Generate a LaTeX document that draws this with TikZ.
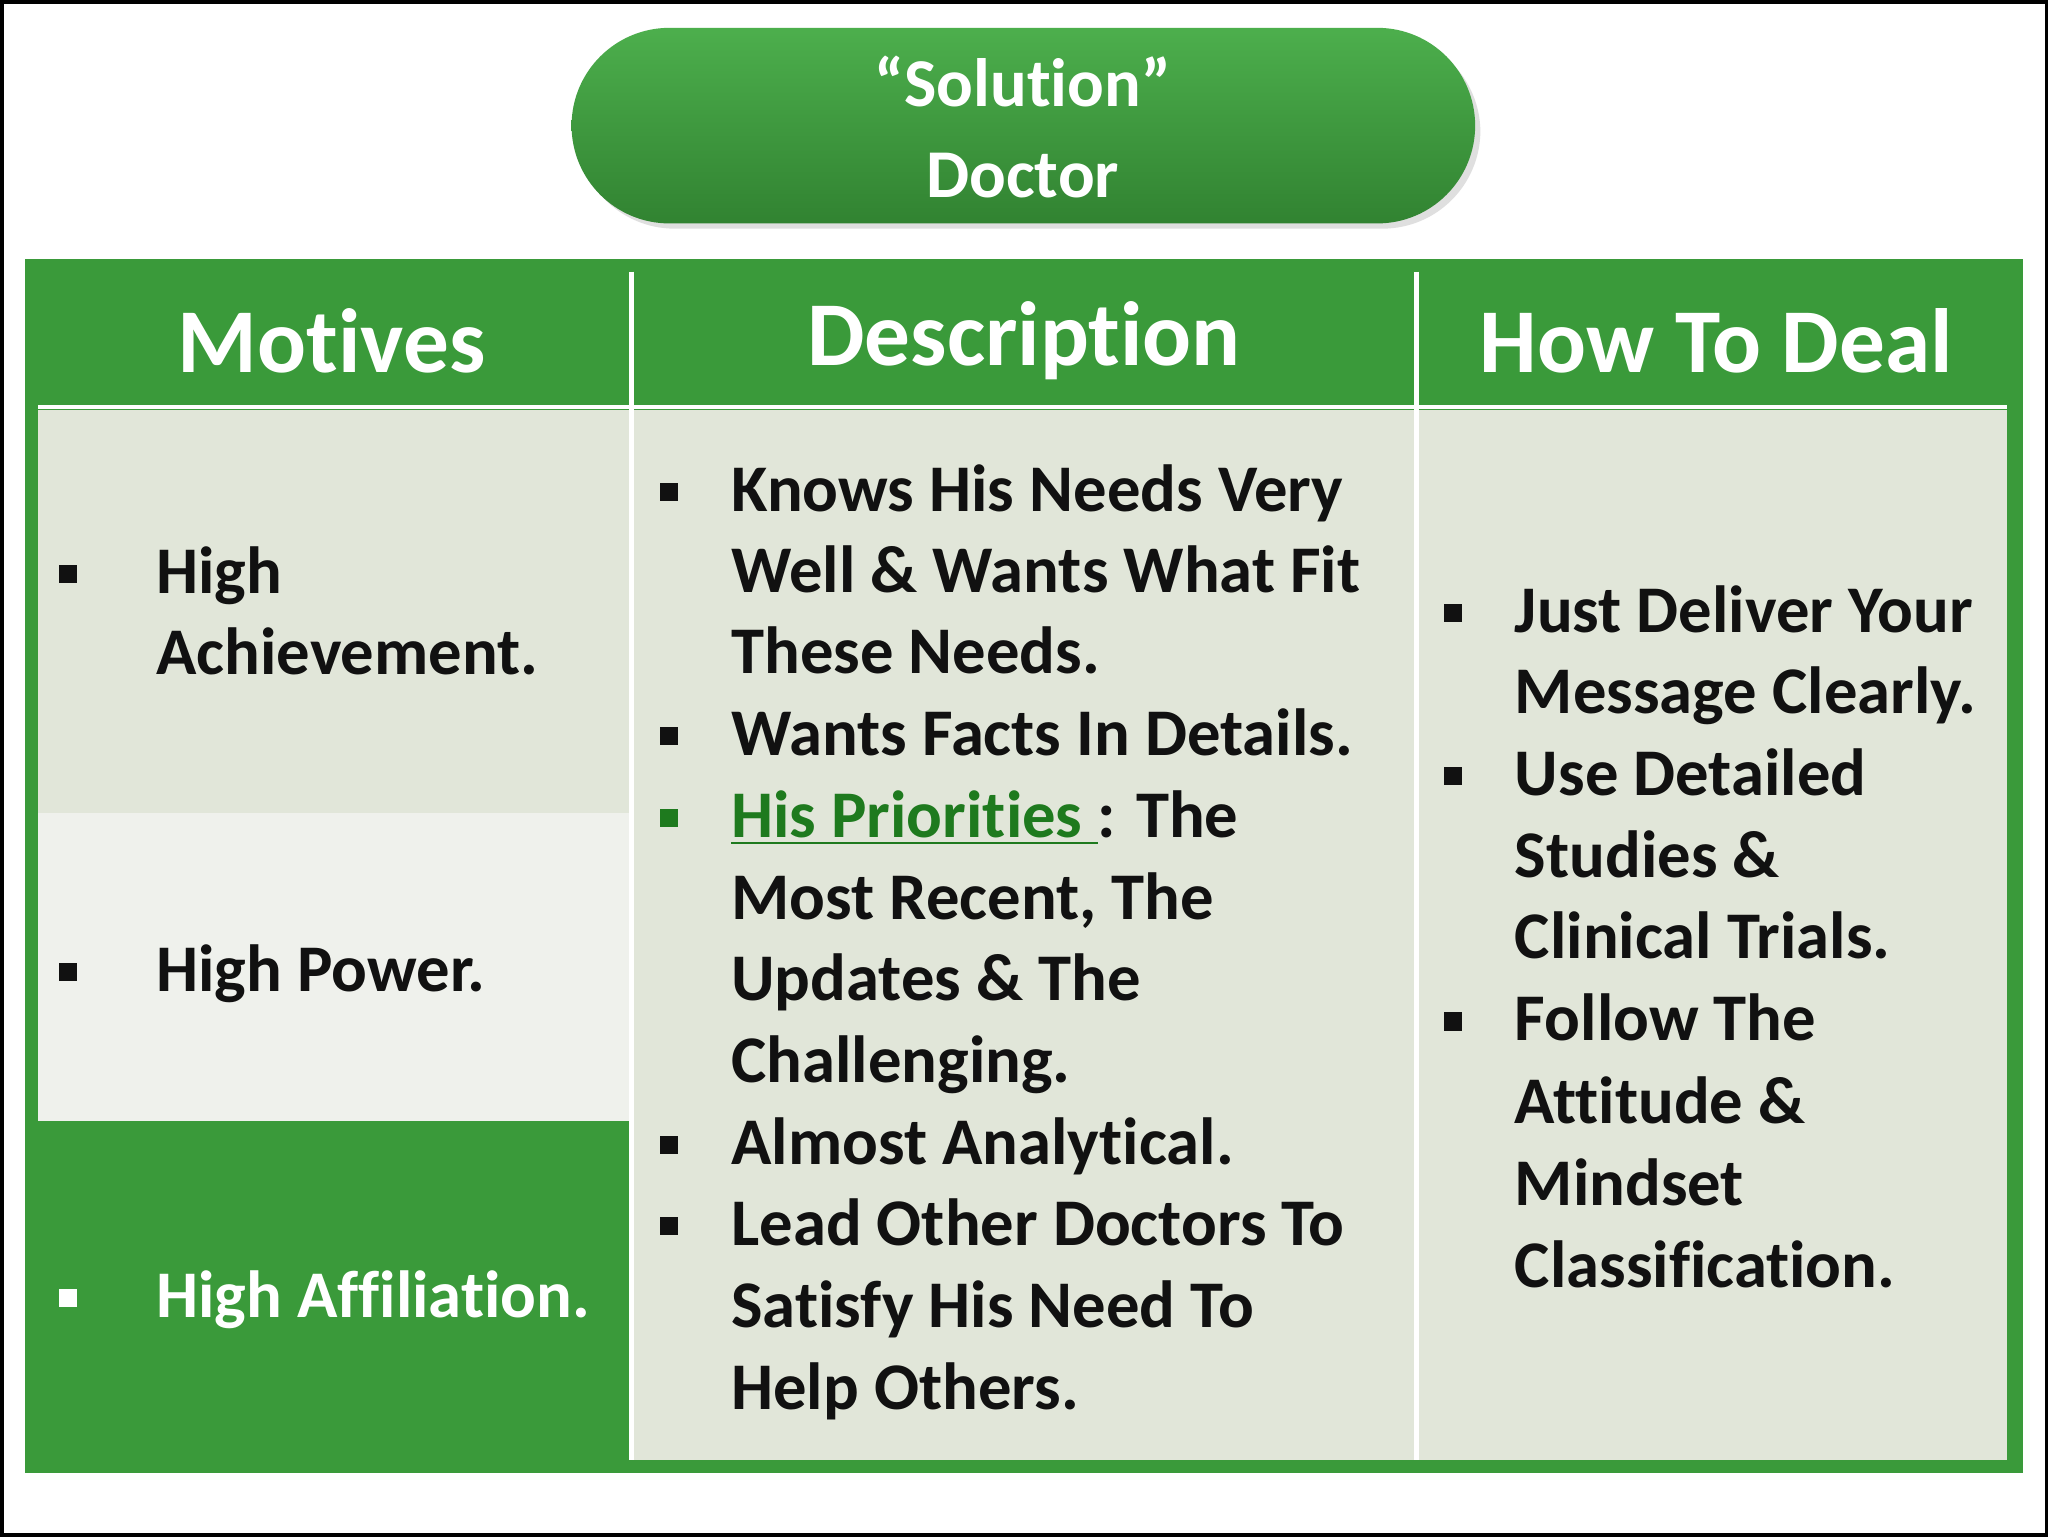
\documentclass[tikz,border=0pt]{standalone}
\usepackage{fontspec}
\setmainfont[Ligatures=NoCommon]{Carlito}
\usetikzlibrary{calc}
\definecolor{gr}{HTML}{3A9A3A}
\definecolor{lt}{HTML}{E1E6D9}
\definecolor{lt2}{HTML}{EFF1EC}
\definecolor{dk}{HTML}{111111}
\definecolor{lk}{HTML}{1E7A1E}
\newcommand{\tl}[4]{\node[txt,anchor=base west] (#1) at (#2) {#3#4};}
\newcommand{\bul}[2]{\fill[#2] ($(#1)+(-7,-22)$) rectangle ($(#1)+(7,-8)$);}
\begin{document}
\begin{tikzpicture}[x=0.013061cm,y=-0.013061cm,
  txt/.style={inner sep=0pt,font=\fontsize{19}{23}\selectfont\bfseries,text=dk},
  hdr/.style={inner sep=0pt,font=\fontsize{26}{30}\selectfont\bfseries,text=white}]
\draw[line width=1pt,fill=white] (0,0) rectangle (1568,1176);
\useasboundingbox (0,0) rectangle (1568,1176);
% pill
\fill[gray!25,rounded corners=0.98cm] (441,25) rectangle (1134,174);
\shade[top color=green!55!black!70!white,bottom color=gr!85!black,rounded corners=0.98cm] (437,20) rectangle (1130,170);
\node[inner sep=0pt,align=center,text=white,font=\fontsize{19.5}{25}\selectfont\bfseries] (pill) at (783,96) {“Solution”\\[1pt]Doctor};
% table
\fill[gr] (18,197) rectangle (1550,1128);
\fill[lt] (28,313) rectangle (482,622);
\fill[lt2] (28,622) rectangle (482,858);
\fill[lt] (485,313) rectangle (1083,1118);
\fill[lt] (1087,313) rectangle (1538,1118);
\draw[white,line width=1.2pt] (28,311) -- (1538,311);
\draw[white,line width=1.2pt] (483,207) -- (483,1118);
\draw[white,line width=1.2pt] (1085,207) -- (1085,1118);
\node[hdr] (h1) at (253,260) {Motives};
\node[hdr] (h2) at (784,260) {Description};
\node[hdr] (h3) at (1315,260) {How To Deal};
% left
\tl{a1}{118,454}{}{High}
\tl{a2}{118,516}{}{Achievement.}
\tl{b1}{118,759}{}{High Power.}
\node[txt,anchor=base west,text=white] (c1) at (118,1009) {High Affiliation.};
\bul{51,454}{dk}\bul{51,759}{dk}\bul{51,1009}{white}
% middle
\tl{m1}{559,391}{}{Knows His Needs Very}
\tl{m2}{559,453}{}{Well \& Wants What Fit}
\tl{m3}{559,515}{}{These Needs.}
\tl{m4}{559,578}{}{Wants Facts In Details.}
\node[txt,anchor=base west] (m5) at (559,641) {\textcolor{lk}{\underline{His Priorities }}: The};
\tl{m6}{559,704}{}{Most Recent, The}
\tl{m7}{559,766}{}{Updates \& The}
\tl{m8}{559,829}{}{Challenging.}
\tl{m9}{559,892}{}{Almost Analytical.}
\tl{m10}{559,954}{}{Lead Other Doctors To}
\tl{m11}{559,1017}{}{Satisfy His Need To}
\tl{m12}{559,1080}{}{Help Others.}
\bul{512,391}{dk}\bul{512,578}{dk}\bul{512,641}{lk}\bul{512,892}{dk}\bul{512,954}{dk}
% right
\tl{r1}{1160,484}{}{Just Deliver Your}
\tl{r2}{1160,546}{}{Message Clearly.}
\tl{r3}{1160,609}{}{Use Detailed}
\tl{r4}{1160,672}{}{Studies \&}
\tl{r5}{1160,734}{}{Clinical Trials.}
\tl{r6}{1160,797}{}{Follow The}
\tl{r7}{1160,860}{}{Attitude \&}
\tl{r8}{1160,923}{}{Mindset}
\tl{r9}{1160,986}{}{Classification.}
\bul{1113,484}{dk}\bul{1113,609}{dk}\bul{1113,797}{dk}
\end{tikzpicture}
\end{document}
